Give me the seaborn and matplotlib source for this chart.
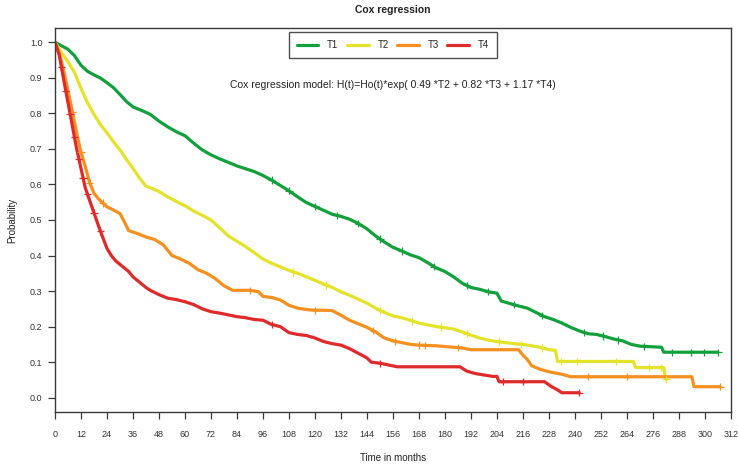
import numpy as np
import pandas as pd
import matplotlib
matplotlib.use("Agg")
import matplotlib.pyplot as plt
import seaborn as sns

# Kaplan-Meier style survival estimates by T stage (months, probability)
t1_time = [0, 3, 6, 9, 12, 15, 18, 21, 24, 27, 30, 33, 36, 40, 44, 48, 52, 56, 60, 64, 68, 72,
           76, 80, 84, 88, 92, 96, 100, 104, 108, 112, 116, 120, 124, 128, 132, 136, 140, 144,
           148, 152, 156, 160, 164, 168, 172, 176, 180, 184, 188, 192, 196, 200, 204, 206, 210,
           214, 218, 222, 226, 230, 234, 238, 242, 246, 250, 254, 258, 262, 266, 270, 280, 281, 306]
t1_prob = [1.000, 0.990, 0.980, 0.962, 0.935, 0.918, 0.908, 0.899, 0.886, 0.872, 0.853, 0.833,
           0.818, 0.808, 0.797, 0.778, 0.762, 0.748, 0.737, 0.716, 0.697, 0.683, 0.672, 0.662,
           0.652, 0.644, 0.636, 0.625, 0.612, 0.597, 0.582, 0.565, 0.549, 0.538, 0.527, 0.516,
           0.510, 0.502, 0.490, 0.475, 0.455, 0.438, 0.423, 0.413, 0.402, 0.394, 0.380, 0.365,
           0.355, 0.340, 0.322, 0.310, 0.305, 0.298, 0.294, 0.272, 0.265, 0.258, 0.252, 0.240,
           0.228, 0.220, 0.210, 0.198, 0.188, 0.180, 0.178, 0.172, 0.165, 0.160, 0.150, 0.145,
           0.142, 0.128, 0.128]

t2_time = [0, 3, 6, 9, 12, 15, 18, 21, 24, 27, 30, 33, 36, 39, 42, 45, 48, 52, 56, 60, 64, 68,
           72, 76, 80, 84, 88, 92, 96, 100, 104, 108, 112, 116, 120, 124, 128, 132, 136, 140,
           144, 148, 152, 156, 160, 164, 168, 172, 176, 180, 184, 188, 192, 196, 200, 204, 208,
           212, 216, 220, 224, 228, 231, 232, 267, 268, 281, 282]
t2_prob = [1.000, 0.970, 0.945, 0.915, 0.870, 0.830, 0.797, 0.768, 0.745, 0.720, 0.697, 0.670,
           0.645, 0.618, 0.595, 0.588, 0.580, 0.565, 0.552, 0.540, 0.525, 0.513, 0.500, 0.478,
           0.455, 0.440, 0.425, 0.408, 0.390, 0.378, 0.368, 0.358, 0.350, 0.340, 0.330, 0.320,
           0.310, 0.298, 0.288, 0.277, 0.266, 0.252, 0.240, 0.230, 0.225, 0.218, 0.210, 0.205,
           0.200, 0.197, 0.193, 0.185, 0.176, 0.168, 0.162, 0.158, 0.155, 0.152, 0.150, 0.146,
           0.142, 0.135, 0.133, 0.102, 0.102, 0.085, 0.085, 0.052]

t3_time = [0, 2, 4, 6, 8, 10, 12, 14, 16, 18, 20, 22, 24, 27, 30, 32, 34, 38, 42, 46, 50, 54,
           58, 62, 66, 70, 74, 78, 82, 86, 90, 94, 96, 100, 104, 108, 112, 116, 120, 124, 128,
           132, 136, 140, 144, 148, 152, 156, 160, 164, 168, 176, 180, 188, 192, 214, 216, 218,
           220, 224, 228, 234, 238, 294, 295, 307]
t3_prob = [1.000, 0.970, 0.920, 0.865, 0.805, 0.745, 0.690, 0.650, 0.605, 0.575, 0.560, 0.548,
           0.537, 0.528, 0.518, 0.495, 0.470, 0.462, 0.452, 0.445, 0.430, 0.400, 0.390, 0.378,
           0.360, 0.350, 0.335, 0.315, 0.302, 0.302, 0.302, 0.298, 0.285, 0.282, 0.275, 0.260,
           0.252, 0.248, 0.246, 0.246, 0.245, 0.232, 0.218, 0.208, 0.198, 0.185, 0.168, 0.160,
           0.155, 0.150, 0.148, 0.146, 0.144, 0.140, 0.135, 0.135, 0.120, 0.108, 0.090, 0.080,
           0.073, 0.066, 0.059, 0.059, 0.031, 0.031]

t4_time = [0, 2, 4, 6, 8, 10, 12, 14, 16, 18, 20, 22, 24, 26, 28, 30, 32, 34, 36, 38, 40, 42,
           44, 48, 52, 56, 60, 64, 68, 72, 76, 80, 84, 88, 92, 96, 100, 104, 108, 112, 116, 120,
           124, 128, 132, 136, 140, 144, 146, 150, 154, 158, 187, 190, 194, 198, 202, 204, 205,
           226, 229, 232, 234, 242]
t4_prob = [1.000, 0.963, 0.895, 0.830, 0.765, 0.700, 0.645, 0.590, 0.555, 0.520, 0.485, 0.452,
           0.420, 0.400, 0.385, 0.375, 0.365, 0.355, 0.340, 0.330, 0.320, 0.310, 0.302, 0.290,
           0.280, 0.276, 0.270, 0.262, 0.250, 0.242, 0.238, 0.233, 0.228, 0.225, 0.220, 0.218,
           0.206, 0.200, 0.183, 0.178, 0.175, 0.168, 0.158, 0.152, 0.148, 0.138, 0.125, 0.112,
           0.100, 0.097, 0.092, 0.087, 0.087, 0.075, 0.068, 0.064, 0.060, 0.060, 0.045, 0.045,
           0.032, 0.022, 0.014, 0.014]

# Censored observations (months)
t1_censor = [100, 108, 120, 130, 140, 150, 160, 175, 190, 200, 212, 225, 244, 253, 260, 272,
             285, 293.5, 299.5, 306]
t2_censor = [110, 125, 150, 165, 178, 190, 205, 215, 225, 233.5, 241, 259, 274, 279.6, 282]
t3_censor = [8, 12, 16, 22, 90, 120, 147, 157, 168, 171, 186, 246, 264, 307]
t4_censor = [3, 5, 7, 9, 11, 13, 15, 18, 21, 100, 150, 207, 216, 242]

stages = ["T1", "T2", "T3", "T4"]
colors = ["#12a03c", "#e3e32c", "#f3901f", "#de2a2a"]
x_ticks = list(range(0, 313, 12))
y_ticks = [0.0, 0.1, 0.2, 0.3, 0.4, 0.5, 0.6, 0.7, 0.8, 0.9, 1.0]
model_text = "Cox regression model: H(t)=Ho(t)*exp( 0.49 *T2 + 0.82 *T3 + 1.17 *T4)"

times = [t1_time, t2_time, t3_time, t4_time]
probs = [t1_prob, t2_prob, t3_prob, t4_prob]
censors = [t1_censor, t2_censor, t3_censor, t4_censor]

curve_df = pd.concat(
    [pd.DataFrame({"time": t, "prob": p, "stage": s}) for t, p, s in zip(times, probs, stages)],
    ignore_index=True,
)

# survival value at each censoring time, taken from the listed curve
censor_rows = []
for t, p, c, s in zip(times, probs, censors, stages):
    for ct in c:
        censor_rows.append({"time": ct, "prob": float(np.interp(ct, t, p)), "stage": s})
censor_df = pd.DataFrame(censor_rows)

sns.set_style("white")
plt.rcParams["font.family"] = ["Liberation Sans", "DejaVu Sans"]

fig, ax = plt.subplots(figsize=(7.39, 4.66), dpi=100)
fig.subplots_adjust(left=0.0744, right=0.989, top=0.94, bottom=0.116)

palette = dict(zip(stages, colors))
sns.lineplot(data=curve_df, x="time", y="prob", hue="stage", palette=palette,
             estimator=None, sort=False, linewidth=2.3, legend=False, ax=ax)
sns.scatterplot(data=censor_df, x="time", y="prob", hue="stage", palette=palette,
                marker="+", s=28, linewidth=0.9, legend=False, ax=ax, zorder=3)

ax.set_xlim(0, 312)
ax.set_ylim(-0.04, 1.04)
ax.set_xticks(x_ticks)
ax.set_xticklabels([str(v) for v in x_ticks])
ax.set_yticks(y_ticks)
ax.set_yticklabels([f"{v:.1f}" for v in y_ticks])

spine_color = "#3a3a3a"
for sp in ax.spines.values():
    sp.set_visible(True)
    sp.set_color(spine_color)
    sp.set_linewidth(1.0)
ax.tick_params(axis="both", direction="out", length=5, width=0.9, color=spine_color,
               labelsize=6.5, labelcolor="#333333")
ax.tick_params(axis="x", pad=8)
ax.tick_params(axis="y", pad=4)
ax.tick_params(bottom=True, left=True)

ax.set_xlabel("Time in months", fontsize=7, color="#222222", labelpad=10)
ax.set_ylabel("Probability", fontsize=7, color="#222222", labelpad=9)
ax.set_title("Cox regression", fontsize=7.5, fontweight="bold", color="#222222", pad=10.5)

handles = [plt.Line2D([], [], color=c, lw=2.3) for c in colors]
leg = ax.legend(handles, stages, loc="upper center", bbox_to_anchor=(0.5, 0.989), ncol=4,
                fontsize=7, frameon=True, fancybox=False, handlelength=2.2,
                handletextpad=0.9, columnspacing=0.9, borderpad=0.8, borderaxespad=0.0)
leg.get_frame().set_edgecolor("#222222")
leg.get_frame().set_linewidth(1.0)

ax.text(0.5, 0.8516, model_text, transform=ax.transAxes, ha="center", va="center",
        fontsize=7.5, color="#222222")

fig.savefig("out.png", dpi=100, facecolor="white")
